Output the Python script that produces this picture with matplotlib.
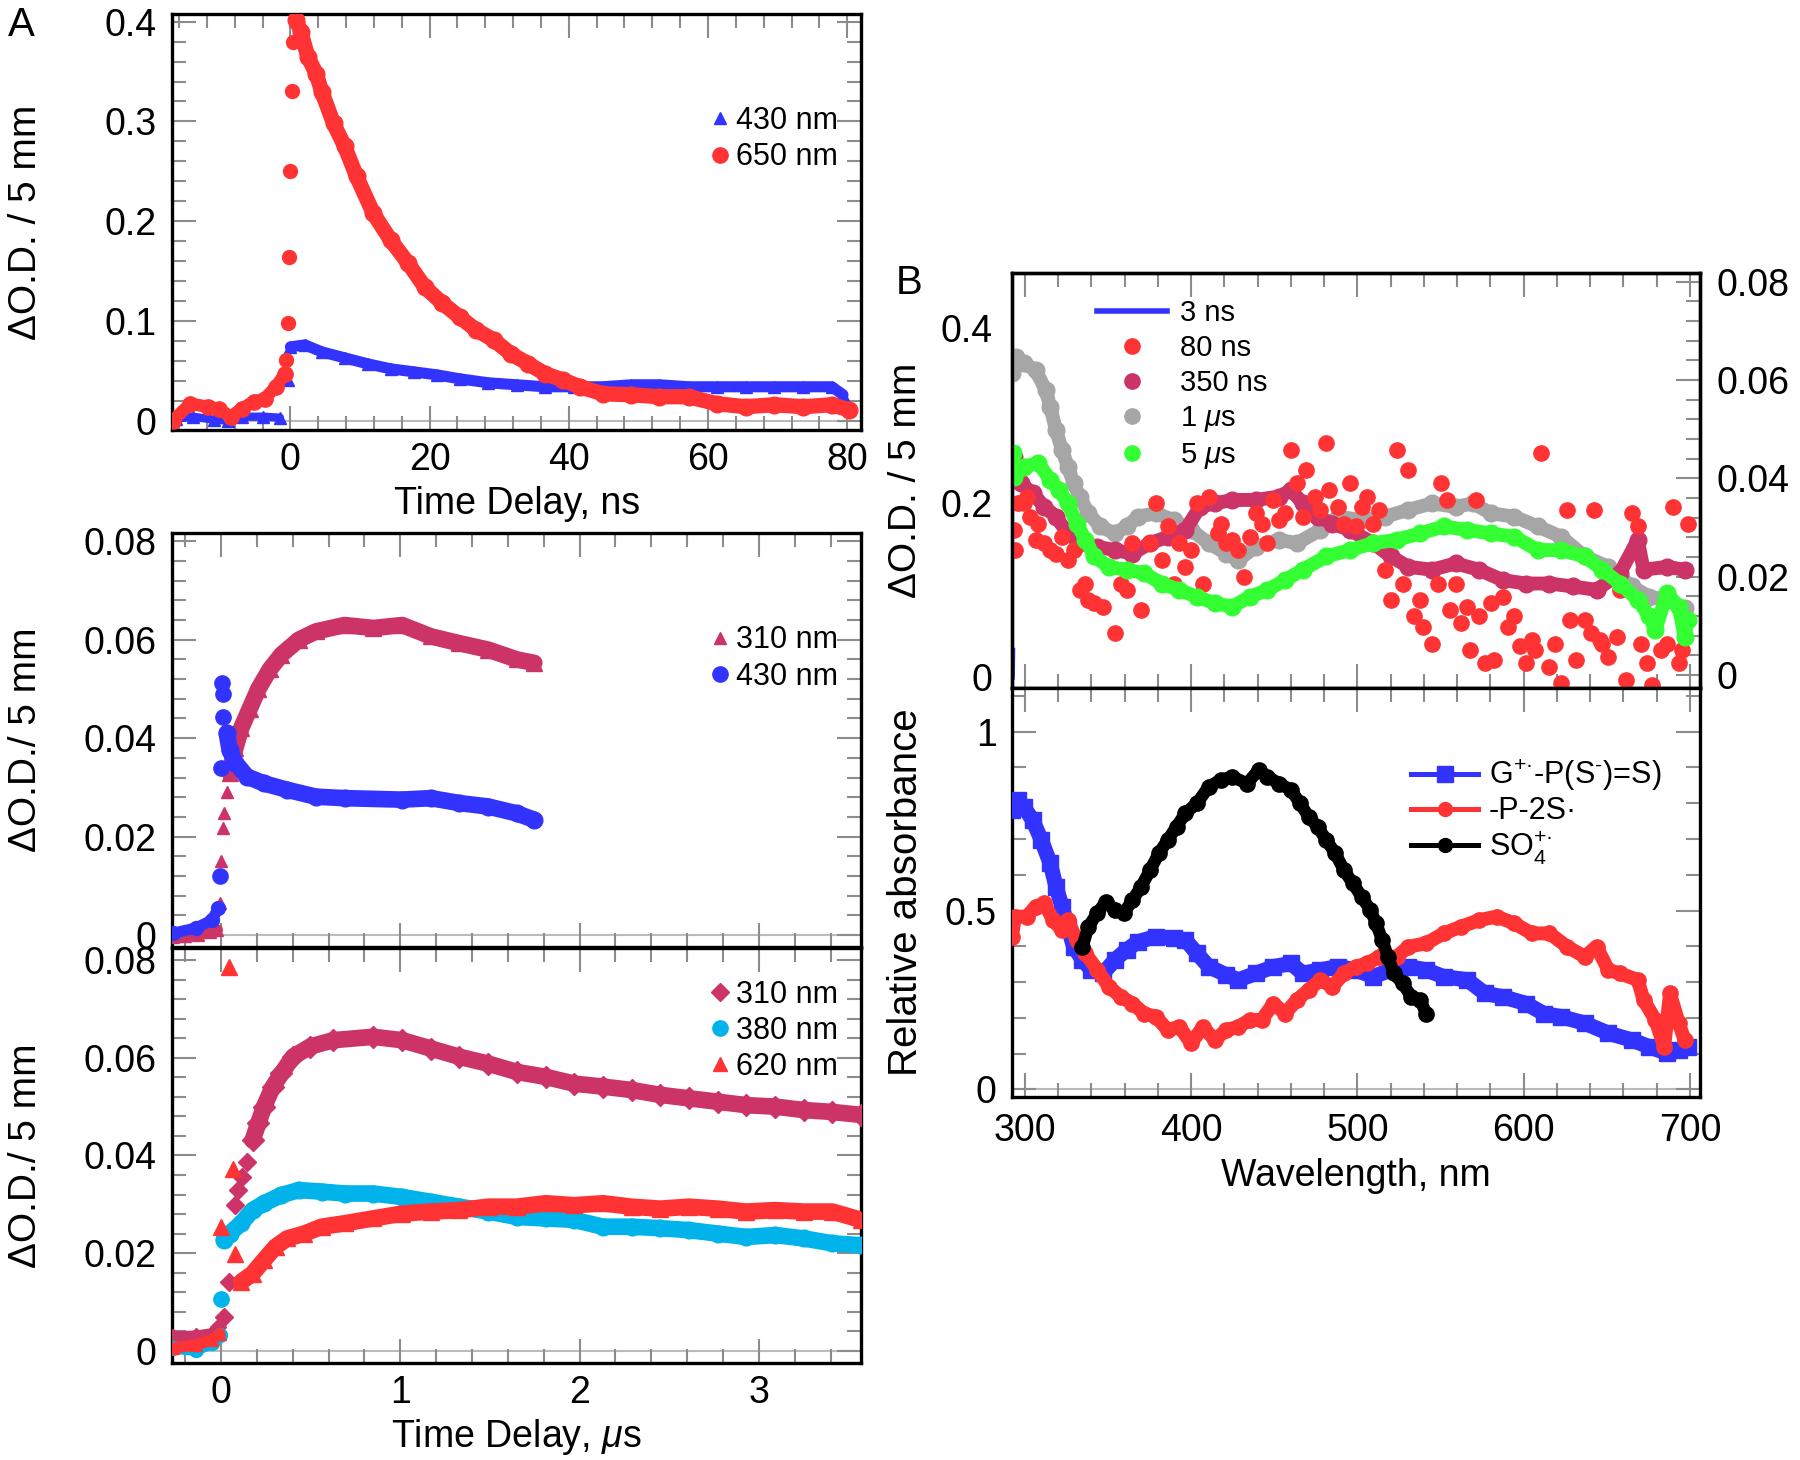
import matplotlib
matplotlib.use('Agg')
import matplotlib.pyplot as plt
from matplotlib.ticker import MultipleLocator, FuncFormatter
from matplotlib.lines import Line2D

plt.rcParams['font.family'] = ['Liberation Sans', 'DejaVu Sans']
plt.rcParams['mathtext.fontset'] = 'custom'
plt.rcParams['mathtext.rm'] = 'Liberation Sans'
plt.rcParams['mathtext.it'] = 'Liberation Sans:italic'

BLUE = '#3333ff'
RED = '#ff3333'
CRIMSON = '#cc3366'
CYAN = '#00b4eb'
GRAY = '#a6a6a6'
GREEN = '#33ff33'
TICK = '#8c8c8c'

# ---- panel A, top: ns kinetics ----
a1_red_pre_t = [-16.9, -14.4, -11.9, -10.3, -8.6, -7.0, -5.3, -3.7, -2.1, -0.8]
a1_red_pre_od = [0.0, 0.017, 0.014, 0.012, 0.004, 0.012, 0.019, 0.022, 0.034, 0.047]
a1_red_rise_t = [-0.66, -0.41, -0.25, 0.0, 0.16, 0.41]
a1_red_rise_od = [0.061, 0.098, 0.164, 0.25, 0.331, 0.38]
a1_red_t = [0.8, 1.5, 2.5, 3.7, 4.5, 6.2, 7.8, 9.5, 11.9, 14.4, 16.9, 19.3, 21.8, 24.3,
            26.7, 29.2, 31.7, 34.2, 36.6, 39.1, 41.6, 44.9, 49.0, 53.0, 57.2, 61.3,
            65.4, 69.5, 73.7, 77.8, 80.2]
a1_red_od = [0.402, 0.39, 0.365, 0.348, 0.33, 0.298, 0.275, 0.245, 0.208, 0.181, 0.158,
             0.134, 0.118, 0.104, 0.091, 0.081, 0.067, 0.057, 0.047, 0.041, 0.034, 0.027,
             0.026, 0.024, 0.024, 0.017, 0.014, 0.016, 0.014, 0.016, 0.011]
a1_blue_pre_t = [-16.5, -14.0, -11.0, -9.0, -7.0, -4.0, -1.5]
a1_blue_pre_od = [0.002, 0.004, 0.001, 0.0, 0.004, 0.004, 0.003]
a1_blue_rise_t = [-0.4]
a1_blue_rise_od = [0.041]
a1_blue_t = [0.0, 2.1, 4.5, 7.8, 11.1, 14.4, 17.7, 21.0, 24.3, 28.4, 32.5, 36.6, 40.7,
             44.9, 49.0, 53.0, 57.2, 61.3, 65.4, 69.5, 73.7, 77.8, 79.4]
a1_blue_od = [0.074, 0.076, 0.069, 0.063, 0.057, 0.052, 0.049, 0.046, 0.042, 0.038, 0.036,
              0.034, 0.034, 0.034, 0.036, 0.036, 0.034, 0.034, 0.034, 0.034, 0.034, 0.034,
              0.026]

# ---- panel A, middle: us kinetics ----
a2_310_pre_t = [-0.27, -0.2, -0.13, -0.06, -0.02]
a2_310_pre_od = [-0.0005, -0.0003, 0.0, 0.0005, 0.001]
a2_310_rise_t = [-0.006, 0.0, 0.01, 0.016, 0.032]
a2_310_rise_od = [0.0064, 0.015, 0.0217, 0.0247, 0.029]
a2_310_t = [0.048, 0.08, 0.112, 0.16, 0.208, 0.272, 0.337, 0.433, 0.529, 0.689, 0.85,
            1.01, 1.17, 1.33, 1.49, 1.65, 1.747]
a2_310_od = [0.033, 0.038, 0.042, 0.046, 0.050, 0.054, 0.057, 0.060, 0.0617, 0.063,
             0.0624, 0.063, 0.0607, 0.0593, 0.058, 0.056, 0.0553]
a2_430_pre_t = [-0.27, -0.14, -0.05, -0.016]
a2_430_pre_od = [0.0003, 0.0014, 0.003, 0.0054]
a2_430_rise_t = [-0.006, 0.0, 0.01, 0.0096, 0.006]
a2_430_rise_od = [0.0119, 0.0339, 0.0444, 0.049, 0.0512]
a2_430_t = [0.032, 0.048, 0.08, 0.144, 0.24, 0.369, 0.529, 0.689, 1.01, 1.17, 1.33, 1.49,
            1.65, 1.747]
a2_430_od = [0.041, 0.0376, 0.035, 0.0322, 0.0308, 0.0295, 0.0281, 0.0278, 0.0275,
             0.0278, 0.0268, 0.0261, 0.0247, 0.0234]

# ---- panel A, bottom: us kinetics ----
a3_310_pre_t = [-0.27, -0.14, -0.05, -0.016]
a3_310_pre_od = [0.0029, 0.003, 0.0035, 0.0049]
a3_310_rise_t = [0.016, 0.042, 0.08, 0.096, 0.119, 0.144]
a3_310_rise_od = [0.007, 0.0141, 0.0298, 0.0329, 0.0356, 0.0387]
a3_310_t = [0.176, 0.208, 0.24, 0.288, 0.337, 0.401, 0.497, 0.625, 0.849, 1.01, 1.17,
            1.33, 1.49, 1.65, 1.81, 1.97, 2.13, 2.29, 2.45, 2.61, 2.77, 2.93, 3.09, 3.25,
            3.41, 3.57]
a3_310_od = [0.0431, 0.0466, 0.05, 0.054, 0.0568, 0.0602, 0.0623, 0.0636, 0.0643, 0.0636,
             0.0619, 0.0602, 0.0588, 0.0571, 0.0561, 0.0547, 0.0541, 0.0534, 0.0524,
             0.0517, 0.051, 0.0503, 0.05, 0.0493, 0.0489, 0.0483]
a3_380_pre_t = [-0.27, -0.14, -0.05, -0.006]
a3_380_pre_od = [0.0005, 0.0001, 0.0015, 0.0032]
a3_380_rise_t = [0.0]
a3_380_rise_od = [0.0107]
a3_380_t = [0.016, 0.048, 0.112, 0.176, 0.24, 0.337, 0.433, 0.561, 0.689, 0.849, 1.01,
            1.17, 1.33, 1.49, 1.65, 1.81, 1.97, 2.13, 2.29, 2.45, 2.61, 2.77, 2.93, 3.09,
            3.25, 3.41, 3.57]
a3_380_od = [0.0227, 0.024, 0.0261, 0.0288, 0.0302, 0.0319, 0.0329, 0.0326, 0.0322,
             0.0322, 0.0315, 0.0305, 0.0295, 0.0285, 0.0274, 0.0271, 0.0268, 0.0254,
             0.0254, 0.0251, 0.0247, 0.024, 0.0233, 0.0237, 0.023, 0.022, 0.0216]
a3_620_pre_t = [-0.27, -0.14, -0.05, -0.006]
a3_620_pre_od = [0.0005, 0.0012, 0.0022, 0.0035]
a3_620_rise_t = [0.0, 0.042, 0.064, 0.08]
a3_620_rise_od = [0.0254, 0.0786, 0.0373, 0.0199]
a3_620_t = [0.112, 0.176, 0.24, 0.304, 0.369, 0.465, 0.561, 0.689, 0.849, 1.01, 1.17,
            1.33, 1.49, 1.65, 1.81, 1.97, 2.13, 2.29, 2.45, 2.61, 2.77, 2.93, 3.09, 3.25,
            3.41, 3.57]
a3_620_od = [0.0141, 0.0158, 0.0186, 0.0213, 0.023, 0.024, 0.0254, 0.0261, 0.0271, 0.0281,
             0.0285, 0.0288, 0.0295, 0.0295, 0.0302, 0.0298, 0.0302, 0.0295, 0.0291,
             0.0295, 0.0291, 0.0285, 0.0288, 0.0285, 0.0285, 0.0268]

# ---- panel B, top: transient spectra ----
b1_3ns_wl = [292.3, 292.5]
b1_3ns_od = [0.0, 0.03]
b1_80ns_wl = [293.3, 295.8, 299.3, 302.8, 306.4, 311.7, 318.7, 325.8, 332.9, 336.4, 341.7,
              347.0, 354.1, 357.6, 361.1, 370.0, 375.3, 378.8, 385.9, 392.9, 396.5, 403.5,
              407.1, 410.6, 415.9, 421.2, 428.3, 431.8, 438.9, 442.4, 445.9, 453.0, 460.1,
              463.6, 468.9, 474.2, 481.3, 483.0, 488.3, 495.4, 498.9, 506.0, 513.1, 516.6,
              520.1, 523.7, 530.7, 534.3, 539.6, 544.9, 550.2, 553.7, 559.0, 562.5, 567.8,
              571.4, 576.7, 582.0, 587.3, 594.3, 597.9, 601.4, 606.7, 610.2, 615.5, 622.6,
              626.1, 631.4, 636.7, 642.0, 645.6, 650.9, 656.2, 661.5, 665.0, 668.6, 673.9,
              677.4, 682.7, 689.8, 695.0, 698.6,
              294.0, 301.1, 308.1, 315.2, 322.3, 329.3, 338.2, 350.5, 364.7, 382.3, 389.4,
              400.0, 417.7, 424.7, 435.3, 449.5, 456.5, 467.1, 477.7, 491.9, 502.5, 509.5,
              527.2, 537.8, 548.4, 555.5, 566.1, 573.1, 580.2, 590.8, 604.9, 619.1, 627.9,
              640.2, 647.3, 657.9, 670.3, 686.2, 693.3]
b1_80ns_od = [0.0295, 0.0349, 0.0349, 0.0322, 0.0275, 0.0268, 0.0247, 0.0234, 0.0173,
              0.0186, 0.0146, 0.0139, 0.0085, 0.0186, 0.0173, 0.0132, 0.0268, 0.0349,
              0.0302, 0.0268, 0.022, 0.0349, 0.0186, 0.0363, 0.0288, 0.0268, 0.0254, 0.02,
              0.0329, 0.0308, 0.0268, 0.0315, 0.0458, 0.039, 0.0417, 0.0363, 0.0471, 0.0376,
              0.0342, 0.039, 0.0302, 0.0363, 0.0336, 0.0214, 0.0153, 0.0458, 0.0417, 0.0119,
              0.0098, 0.0064, 0.039, 0.0356, 0.0186, 0.0105, 0.0051, 0.0356, 0.0024, 0.0031,
              0.0159, 0.0119, 0.0058, 0.0024, 0.0051, 0.0451, 0.0017, -0.0017, 0.0336,
              0.0031, 0.0112, 0.0336, 0.0071, 0.0037, 0.0078, -0.001, 0.0329, 0.0302,
              0.0024, -0.002, 0.0051, 0.0342, 0.0051, 0.0308,
              0.0254, 0.0363, 0.0308, 0.0254, 0.0281, 0.0254, 0.0153, 0.022, 0.0268, 0.0234,
              0.0186, 0.0254, 0.0308, 0.0275, 0.0281, 0.0356, 0.0329, 0.0322, 0.0336,
              0.0308, 0.0342, 0.0308, 0.0186, 0.0153, 0.0186, 0.0132, 0.0139, 0.0119,
              0.0146, 0.0098, 0.0071, 0.0064, 0.0112, 0.0085, 0.0064, 0.0173, 0.0064,
              0.0064, 0.0024]
b1_350ns_wl = [293.3, 297.5, 304.6, 311.7, 318.7, 325.8, 332.9, 343.5, 354.1, 364.7, 375.3,
               385.9, 396.5, 405.3, 414.1, 424.7, 438.9, 453.0, 460.1, 467.1, 476.0, 484.8,
               495.4, 509.5, 520.1, 530.7, 544.9, 559.0, 573.1, 587.3, 601.4, 615.5, 629.7,
               643.8, 657.9, 668.6, 672.1, 686.2, 696.8]
b1_350ns_od = [0.0444, 0.039, 0.037, 0.0342, 0.0322, 0.0288, 0.0268, 0.0261, 0.0254,
               0.0247, 0.0268, 0.0281, 0.0295, 0.0342, 0.0349, 0.0356, 0.0356, 0.0363,
               0.0376, 0.0349, 0.0322, 0.0308, 0.0295, 0.0268, 0.0241, 0.022, 0.0214,
               0.0227, 0.0214, 0.0193, 0.0186, 0.0186, 0.018, 0.0173, 0.0207, 0.0275,
               0.0214, 0.022, 0.0214]
b1_1us_wl = [292.2, 294.7, 299.3, 306.4, 312.4, 315.2, 318.7, 322.3, 325.8, 329.3, 332.9,
             338.2, 345.2, 354.1, 361.1, 368.2, 378.8, 389.4, 400.0, 410.6, 421.2, 428.3,
             438.9, 453.0, 463.6, 477.7, 488.3, 502.5, 516.6, 530.7, 544.9, 559.0, 569.6,
             580.2, 594.3, 608.5, 622.6, 636.7, 650.9, 665.0, 675.6, 686.2, 696.8]
b1_1us_od = [0.0614, 0.0647, 0.0634, 0.062, 0.058, 0.0546, 0.0498, 0.0458, 0.0424, 0.039,
             0.0363, 0.0329, 0.0302, 0.0288, 0.0302, 0.0322, 0.0329, 0.0315, 0.0295,
             0.0268, 0.0247, 0.0234, 0.0261, 0.0275, 0.0268, 0.0295, 0.0322, 0.0315,
             0.0322, 0.0336, 0.0349, 0.0342, 0.0349, 0.0329, 0.0322, 0.0302, 0.0281,
             0.0241, 0.022, 0.018, 0.0159, 0.0153, 0.0136]
b1_5us_wl = [293.0, 293.6, 299.3, 308.1, 315.2, 320.5, 325.8, 331.1, 336.4, 341.7, 350.5,
             361.1, 371.7, 382.3, 392.9, 403.5, 414.1, 424.7, 435.3, 445.9, 456.5, 467.1,
             481.3, 495.4, 509.5, 523.7, 537.8, 551.9, 566.1, 580.2, 594.3, 608.5, 622.6,
             636.7, 647.3, 657.9, 668.6, 675.6, 679.2, 686.2, 693.3, 696.8, 698.6]
b1_5us_od = [0.0451, 0.0403, 0.0424, 0.0431, 0.0397, 0.0376, 0.0349, 0.0308, 0.0275,
             0.0241, 0.022, 0.0214, 0.0207, 0.0186, 0.0173, 0.0159, 0.0146, 0.0139, 0.0159,
             0.0173, 0.0193, 0.0214, 0.0241, 0.0254, 0.0268, 0.0275, 0.0288, 0.0302,
             0.0295, 0.0288, 0.0281, 0.0254, 0.0254, 0.0241, 0.0214, 0.0186, 0.0153,
             0.0119, 0.0092, 0.0166, 0.0139, 0.0078, 0.0112]

# ---- panel B, bottom: reference spectra ----
b2_g_wl = [292.2, 295.8, 299.3, 304.6, 309.9, 315.2, 318.7, 322.3, 325.8, 329.3, 334.6,
           339.9, 347.0, 354.1, 361.1, 368.2, 378.8, 389.4, 396.5, 403.5, 410.6, 421.2,
           428.3, 438.9, 449.5, 460.1, 467.1, 477.7, 488.3, 498.9, 509.5, 520.1, 530.7,
           541.3, 551.9, 566.1, 576.7, 587.3, 601.4, 612.0, 622.6, 636.7, 650.9, 665.0,
           675.6, 686.2, 693.3, 698.6]
b2_g_abs = [0.781, 0.809, 0.79, 0.753, 0.697, 0.632, 0.567, 0.511, 0.455, 0.399, 0.362,
            0.334, 0.324, 0.362, 0.39, 0.413, 0.427, 0.422, 0.418, 0.38, 0.343, 0.32, 0.306,
            0.324, 0.343, 0.352, 0.324, 0.334, 0.343, 0.334, 0.315, 0.334, 0.343, 0.334,
            0.315, 0.306, 0.268, 0.259, 0.24, 0.212, 0.203, 0.185, 0.157, 0.138, 0.119,
            0.101, 0.11, 0.119]
b2_p2s_wl = [292.2, 294.0, 301.1, 306.4, 311.7, 317.0, 322.3, 325.8, 331.1, 336.4, 343.5,
             350.5, 357.6, 364.7, 371.7, 378.8, 385.9, 392.9, 400.0, 407.1, 414.1, 421.2,
             428.3, 435.3, 442.4, 449.5, 456.5, 463.6, 470.7, 477.7, 484.8, 491.9, 498.9,
             506.0, 513.1, 523.7, 530.7, 541.3, 551.9, 562.5, 573.1, 583.7, 594.3, 604.9,
             615.5, 626.1, 636.7, 643.8, 650.9, 657.9, 668.6, 672.1, 679.2, 684.5, 688.0,
             693.3, 696.8]
b2_p2s_abs = [0.427, 0.483, 0.483, 0.511, 0.52, 0.473, 0.445, 0.473, 0.418, 0.38, 0.334,
              0.287, 0.259, 0.24, 0.212, 0.203, 0.166, 0.175, 0.129, 0.175, 0.138, 0.166,
              0.175, 0.194, 0.194, 0.24, 0.212, 0.25, 0.278, 0.306, 0.287, 0.324, 0.343,
              0.352, 0.371, 0.371, 0.399, 0.408, 0.436, 0.455, 0.473, 0.483, 0.464, 0.436,
              0.436, 0.399, 0.371, 0.399, 0.334, 0.324, 0.306, 0.25, 0.194, 0.119, 0.268,
              0.185, 0.138]
b2_so4_wl = [334.6, 338.2, 343.5, 348.8, 354.1, 359.4, 364.7, 370.0, 375.3, 380.6, 385.9,
             391.2, 396.5, 403.5, 410.6, 417.7, 424.7, 433.6, 440.6, 445.9, 453.0, 460.1,
             465.4, 470.7, 476.0, 481.3, 486.6, 491.9, 497.2, 502.5, 507.8, 511.3, 514.8,
             518.4, 521.9, 527.2, 532.5, 537.8, 541.3]
b2_so4_abs = [0.399, 0.455, 0.492, 0.525, 0.501, 0.492, 0.529, 0.567, 0.613, 0.66, 0.697,
              0.734, 0.772, 0.8, 0.846, 0.865, 0.874, 0.855, 0.893, 0.874, 0.855, 0.837,
              0.8, 0.762, 0.734, 0.697, 0.66, 0.613, 0.576, 0.539, 0.501, 0.464, 0.418,
              0.371, 0.324, 0.296, 0.259, 0.25, 0.212]


def num_fmt(v, pos):
    return '%g' % round(v, 6)


def style_axes(ax, xmaj, xmin, ymaj, ymin):
    ax.xaxis.set_major_locator(MultipleLocator(xmaj))
    ax.xaxis.set_minor_locator(MultipleLocator(xmin))
    ax.yaxis.set_major_locator(MultipleLocator(ymaj))
    ax.yaxis.set_minor_locator(MultipleLocator(ymin))
    ax.xaxis.set_major_formatter(FuncFormatter(num_fmt))
    ax.yaxis.set_major_formatter(FuncFormatter(num_fmt))
    ax.tick_params(which='both', direction='in', top=True, right=True, color=TICK,
                   width=1.5, labelsize=27)
    ax.tick_params(axis='x', which='major', length=17, pad=9)
    ax.tick_params(axis='y', which='major', length=17, pad=11)
    ax.tick_params(which='minor', length=10)
    for s in ax.spines.values():
        s.set_linewidth(2.4)


def band(ax, x, y, color, marker, ms, lw):
    ax.plot(x, y, color=color, lw=lw, marker=marker, ms=ms, solid_joinstyle='round',
            solid_capstyle='round', zorder=3)


def dots(ax, x, y, color, marker, ms):
    ax.plot(x, y, ls='none', marker=marker, ms=ms, color=color, zorder=3)


def marker_handle(color, marker, ms):
    return Line2D([], [], ls='none', marker=marker, ms=ms, color=color)


fig = plt.figure(figsize=(18, 14.6), dpi=100)

# ---------------- A top ----------------
ax1 = fig.add_axes([0.0956, 0.7055, 0.3828, 0.2849])
ax1.axhline(0, color='#bbbbbb', lw=1.5, zorder=1)
band(ax1, a1_blue_pre_t, a1_blue_pre_od, BLUE, '^', 8, 6)
dots(ax1, a1_blue_rise_t, a1_blue_rise_od, BLUE, '^', 8)
band(ax1, a1_blue_t, a1_blue_od, BLUE, '^', 9, 8)
band(ax1, a1_red_pre_t, a1_red_pre_od, RED, 'o', 11, 9)
dots(ax1, a1_red_rise_t, a1_red_rise_od, RED, 'o', 10)
band(ax1, a1_red_t, a1_red_od, RED, 'o', 12, 11)
ax1.set_xlim(-17, 82)
ax1.set_ylim(-0.0093, 0.4077)
style_axes(ax1, 20, 4, 0.1, 0.02)
ax1.set_xlabel('Time Delay, ns', fontsize=27)
ax1.xaxis.set_label_coords(0.5, -0.134)
ax1.set_ylabel('ΔO.D. / 5 mm', fontsize=28, va='center')
ax1.yaxis.set_label_coords(-0.212, 0.5)
ax1.legend([marker_handle(BLUE, '^', 9), marker_handle(RED, 'o', 11)],
           ['430 nm', '650 nm'], loc='upper right', bbox_to_anchor=(0.967, 0.78),
           frameon=False, fontsize=22, handlelength=0.7, handletextpad=0.2,
           labelspacing=0.22, borderpad=0, borderaxespad=0)
fig.text(0.012, 0.983, 'A', fontsize=29, ha='center', va='center')

# ---------------- A middle ----------------
ax2 = fig.add_axes([0.0956, 0.3516, 0.3828, 0.2836])
ax2.axhline(0, color='#bbbbbb', lw=1.5, zorder=1)
band(ax2, a2_310_pre_t, a2_310_pre_od, CRIMSON, '^', 9, 8)
dots(ax2, a2_310_rise_t, a2_310_rise_od, CRIMSON, '^', 9)
band(ax2, a2_310_t, a2_310_od, CRIMSON, '^', 12, 12)
band(ax2, a2_430_pre_t, a2_430_pre_od, BLUE, 'o', 10, 8)
dots(ax2, a2_430_rise_t, a2_430_rise_od, BLUE, 'o', 11)
band(ax2, a2_430_t, a2_430_od, BLUE, 'o', 12, 12)
ax2.set_xlim(-0.273, 3.57)
ax2.set_ylim(-0.0024, 0.0818)
style_axes(ax2, 1, 0.2, 0.02, 0.004)
ax2.tick_params(labelbottom=False)
ax2.set_ylabel('ΔO.D./ 5 mm', fontsize=28, va='center')
ax2.yaxis.set_label_coords(-0.212, 0.5)
ax2.legend([marker_handle(CRIMSON, '^', 9), marker_handle(BLUE, 'o', 11)],
           ['310 nm', '430 nm'], loc='upper right', bbox_to_anchor=(0.967, 0.776),
           frameon=False, fontsize=22, handlelength=0.7, handletextpad=0.2,
           labelspacing=0.22, borderpad=0, borderaxespad=0)

# ---------------- A bottom ----------------
ax3 = fig.add_axes([0.0956, 0.0666, 0.3828, 0.2838])
ax3.axhline(0, color='#bbbbbb', lw=1.5, zorder=1)
band(ax3, a3_310_pre_t, a3_310_pre_od, CRIMSON, 'D', 8, 8)
dots(ax3, a3_310_rise_t, a3_310_rise_od, CRIMSON, 'D', 9)
band(ax3, a3_310_t, a3_310_od, CRIMSON, 'D', 11, 12)
band(ax3, a3_380_pre_t, a3_380_pre_od, CYAN, 'o', 10, 8)
dots(ax3, a3_380_rise_t, a3_380_rise_od, CYAN, 'o', 11)
band(ax3, a3_380_t, a3_380_od, CYAN, 'o', 12, 12)
band(ax3, a3_620_pre_t, a3_620_pre_od, RED, '^', 9, 8)
dots(ax3, a3_620_rise_t, a3_620_rise_od, RED, '^', 11)
band(ax3, a3_620_t, a3_620_od, RED, '^', 12, 12)
ax3.set_xlim(-0.273, 3.57)
ax3.set_ylim(-0.00246, 0.0824)
style_axes(ax3, 1, 0.2, 0.02, 0.004)
ax3.set_xlabel(r'Time Delay, $\mu$s', fontsize=27)
ax3.xaxis.set_label_coords(0.5, -0.132)
ax3.set_ylabel('ΔO.D./ 5 mm', fontsize=28, va='center')
ax3.yaxis.set_label_coords(-0.212, 0.5)
ax3.legend([marker_handle(CRIMSON, 'D', 9), marker_handle(CYAN, 'o', 11),
            marker_handle(RED, '^', 10)],
           ['310 nm', '380 nm', '620 nm'], loc='upper right', bbox_to_anchor=(0.967, 0.924),
           frameon=False, fontsize=22, handlelength=0.7, handletextpad=0.2,
           labelspacing=0.2, borderpad=0, borderaxespad=0)

# ---------------- B top ----------------
ax4 = fig.add_axes([0.5622, 0.5286, 0.3822, 0.2842])
ax4r = ax4.twinx()
ax4.plot(b1_3ns_wl, b1_3ns_od, color=BLUE, lw=4)
ax4r.plot(b1_1us_wl, b1_1us_od, color=GRAY, lw=10, marker='o', ms=12)
ax4r.plot(b1_350ns_wl, b1_350ns_od, color=CRIMSON, lw=10, marker='o', ms=12)
ax4r.plot(b1_80ns_wl, b1_80ns_od, ls='none', color=RED, marker='o', ms=11)
ax4r.plot(b1_5us_wl, b1_5us_od, color=GREEN, lw=10, marker='o', ms=12)
ax4.set_xlim(292.2, 706)
ax4.set_ylim(-0.0133, 0.4632)
ax4r.set_ylim(-0.0027, 0.0817)
style_axes(ax4, 100, 20, 0.2, 0.2)
ax4.tick_params(labelbottom=False, right=False)
ax4.tick_params(axis='y', which='both', length=0, pad=14)
ax4r.yaxis.set_major_locator(MultipleLocator(0.02))
ax4r.yaxis.set_minor_locator(MultipleLocator(0.004))
ax4r.yaxis.set_major_formatter(FuncFormatter(num_fmt))
ax4r.tick_params(which='both', direction='in', color=TICK, width=1.5, labelsize=27, pad=12)
ax4r.tick_params(which='major', length=17)
ax4r.tick_params(which='minor', length=10)
for s in ax4r.spines.values():
    s.set_linewidth(2.4)
ax4.set_ylabel('ΔO.D. / 5 mm', fontsize=28, va='center')
ax4.yaxis.set_label_coords(-0.154, 0.5)
ax4.legend([Line2D([], [], color=BLUE, lw=4), marker_handle(RED, 'o', 11),
            marker_handle(CRIMSON, 'o', 11), marker_handle(GRAY, 'o', 11),
            marker_handle(GREEN, 'o', 11)],
           ['3 ns', '80 ns', '350 ns', r'1 $\mu$s', r'5 $\mu$s'],
           loc='upper left', bbox_to_anchor=(0.1235, 0.937), frameon=False, fontsize=21,
           handlelength=2.4, handletextpad=0.45, labelspacing=0.24, borderpad=0,
           borderaxespad=0)
fig.text(0.505, 0.8065, 'B', fontsize=29, ha='center', va='center')

# ---------------- B bottom ----------------
ax5 = fig.add_axes([0.5622, 0.2488, 0.3822, 0.2797])
ax5.axhline(0, color='#bbbbbb', lw=1.5, zorder=1)
band(ax5, b2_g_wl, b2_g_abs, BLUE, 's', 11, 11)
band(ax5, b2_p2s_wl, b2_p2s_abs, RED, 'o', 11, 10)
band(ax5, b2_so4_wl, b2_so4_abs, 'black', 'o', 11, 9)
ax5.set_xlim(292.2, 706)
ax5.set_ylim(-0.0207, 1.121)
style_axes(ax5, 100, 20, 0.5, 0.1)
ax5.tick_params(axis='x', which='major', pad=12)
ax5.set_xlabel('Wavelength, nm', fontsize=27)
ax5.xaxis.set_label_coords(0.5, -0.149)
ax5.set_ylabel('Relative absorbance', fontsize=29, va='center')
ax5.yaxis.set_label_coords(-0.154, 0.5)
ax5.legend([Line2D([], [], color=BLUE, lw=3.6, marker='s', ms=11),
            Line2D([], [], color=RED, lw=3.6, marker='o', ms=10),
            Line2D([], [], color='black', lw=3.6, marker='o', ms=10)],
           [r'G$^{+·}$-P(S$^{‐}$)=S)', '-P-2S·', r'SO$_4^{+·}$'],
           loc='upper left', bbox_to_anchor=(0.58, 0.83), frameon=False, fontsize=22,
           handlelength=2.2, handletextpad=0.35, labelspacing=0.1, borderpad=0,
           borderaxespad=0)

fig.savefig('out.png', dpi=100)
